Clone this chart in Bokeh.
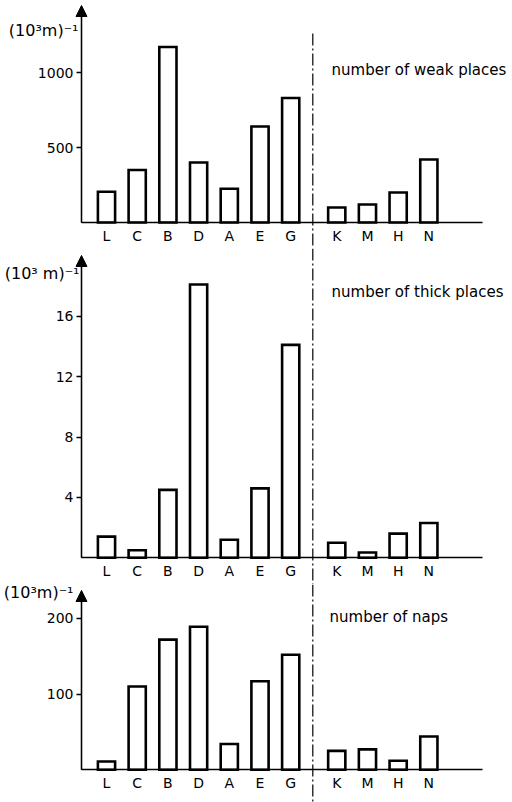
from bokeh.plotting import figure
from bokeh.layouts import column
from bokeh.models import Range1d, FixedTicker, Arrow, NormalHead, Label, LinearAxis
from bokeh.embed import file_html
from bokeh.resources import INLINE

# ---------------- data ----------------
categories = ["L", "C", "B", "D", "A", "E", "G", "K", "M", "H", "N"]
positions = [0, 1, 2, 3, 4, 5, 6, 7.5, 8.5, 9.5, 10.5]
weak_places = [205, 350, 1170, 400, 225, 640, 830, 100, 120, 200, 420]
thick_places = [1.4, 0.5, 4.5, 18.1, 1.2, 4.6, 14.1, 1.0, 0.35, 1.6, 2.3]
naps = [11, 110, 172, 189, 34, 117, 152, 25, 27, 12, 44]
weak_ticks = [500, 1000]
thick_ticks = [4, 8, 12, 16]
naps_ticks = [100, 200]
panel_titles = ["number of weak places", "number of thick places", "number of naps"]
unit_labels = ["(10³m)⁻¹", "(10³ m)⁻¹", "(10³m)⁻¹"]
separator_x = 6.72

# ---------------- layout (pixels) ----------------
W = 512
X0_PX = 106.0     # pixel of category position 0
DX_PX = 30.7      # pixels per category unit
AXIS_PX = 81.0
XAXIS_END_PX = 482.0
FONT = "DejaVu Sans"


def xd(px):
    return (px - X0_PX) / DX_PX


panels = [
    dict(values=weak_places, ticks=weak_ticks, h=248, base=222.0, ppu=0.15, tip=5,
         unit_y=30, unit_dx=-3, title_x=331, title_y=69, line_top=33),
    dict(values=thick_places, ticks=thick_ticks, h=336, base=309.3, ppu=15.1, tip=7,
         unit_y=25, unit_dx=-2, title_x=331, title_y=43.7, line_top=0),
    dict(values=naps, ticks=naps_ticks, h=218, base=185.3, ppu=0.757, tip=6,
         unit_y=8, unit_dx=-8, title_x=329, title_y=32, line_top=0),
]

figs = []
for i, cfg in enumerate(panels):
    def yd(px, cfg=cfg):
        return (cfg["base"] - px) / cfg["ppu"]

    p = figure(width=W, height=cfg["h"],
               x_range=Range1d(xd(0), xd(W)),
               y_range=Range1d(yd(cfg["h"]), yd(0)),
               x_axis_type=None, y_axis_type=None,
               output_backend="svg", toolbar_location=None, min_border=0)
    p.outline_line_color = None
    p.background_fill_color = "white"
    p.border_fill_color = "white"

    ax = xd(AXIS_PX)

    # bars
    p.vbar(x=positions, top=cfg["values"], bottom=0, width=0.56,
           fill_color="white", line_color="black", line_width=2.6,
           line_join="miter")

    # x axis
    xaxis = LinearAxis(
        ticker=FixedTicker(ticks=positions),
        major_label_overrides={pos: cat for pos, cat in zip(positions, categories)},
        fixed_location=0,
        bounds=(ax, xd(XAXIS_END_PX)),
        major_tick_line_color=None, minor_tick_line_color=None,
        major_label_standoff=-1,
        axis_line_width=1.3, axis_line_color="black",
        major_label_text_font=FONT, major_label_text_font_size="14px",
        major_label_text_color="black",
    )
    p.add_layout(xaxis, "below")

    # y axis
    yaxis = LinearAxis(
        ticker=FixedTicker(ticks=cfg["ticks"]),
        fixed_location=ax,
        bounds=(0, yd(cfg["tip"] + 6)),
        major_tick_out=5, major_tick_in=0,
        minor_tick_line_color=None,
        major_label_standoff=3,
        axis_line_width=1.3, axis_line_color="black",
        major_tick_line_width=1.3,
        major_label_text_font=FONT, major_label_text_font_size="14px",
        major_label_text_color="black",
    )
    p.add_layout(yaxis, "left")

    # arrow head
    p.add_layout(Arrow(end=NormalHead(size=11, fill_color="black", line_color="black", line_width=1),
                       x_start=ax, y_start=0, x_end=ax, y_end=yd(cfg["tip"]),
                       line_width=1.3, line_color="black"))

    # separator dash-dot line
    p.line(x=[separator_x, separator_x], y=[yd(cfg["line_top"]), yd(cfg["h"])],
           line_color="black", line_width=1.2, line_dash="12 3 2 3")

    # unit label
    p.add_layout(Label(x=ax, y=yd(cfg["unit_y"]), x_offset=cfg["unit_dx"],
                       text=unit_labels[i], text_align="right", text_baseline="middle",
                       text_font=FONT, text_font_size="16px", text_color="black"))

    # panel title
    p.add_layout(Label(x=xd(cfg["title_x"]), y=yd(cfg["title_y"]),
                       text=panel_titles[i], text_align="left", text_baseline="middle",
                       text_font=FONT, text_font_size="15px", text_color="black"))
    figs.append(p)

layout = column(*figs, spacing=0)
open("out.html", "w").write(file_html(layout, INLINE))
